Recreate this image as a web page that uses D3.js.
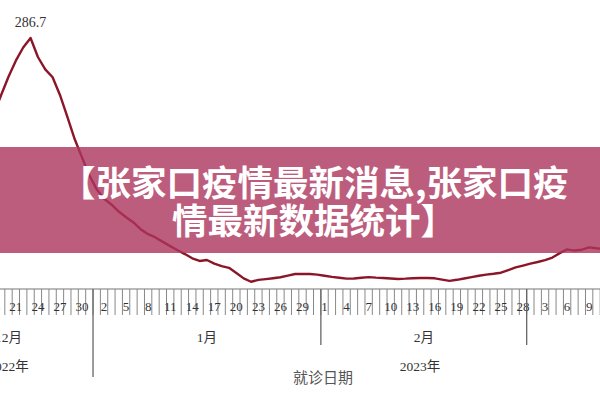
<!DOCTYPE html>
<html><head><meta charset="utf-8">
<script src="https://cdn.jsdelivr.net/npm/d3@7/dist/d3.min.js"></script>
<style>body{margin:0;background:#fff}svg{display:block}</style>
</head><body>
<script>
// ---- data ----
const startDate = "2022-12-18";
const values = [
  200.5,221.6,242.5,260.8,275.8,286.7,265.0,250.9,241.9,221.6,196.8,171.3,150.4,129.8, // Dec18-Dec31
  113.8,103.0,96.6,88.5,82.0,76.0,68.1,62.6,58.9,53.8,49.0,44.2,39.9,35.1,32.0,33.1,29.0,26.2,24.2,18.3,12.1,8.3,10.4,11.3,12.3,13.4,15.3,17.1,17.1,17.1,16.4, // Jan
  15.1,13.9,12.9,11.9,12.0,12.9,13.6,13.0,12.6,12.0,11.5,11.8,12.3,12.6,12.6,12.2,10.7,9.3,10.5,12.0,13.5,15.1,16.4,17.4,18.6,21.6,24.6,26.8, // Feb
  28.9,30.8,32.9,35.9,41.0,45.2,43.9,44.9,47.6,46.5,45.7 // Mar1-Mar11
];
const peakLabel = "286.7";
const monthLabels = ["12月","1月","2月","3月"];
const yearLabels = ["2022年","2023年"];
const axisTitle = "就诊日期";
const titleLines = ["【张家口疫情最新消息,张家口疫","情最新数据统计】"];
const domainStart = "2022-12-09", domainEnd = "2023-03-30"; // full axis extent (days)

const W=600,H=400;
const DAY=864e5;
const parse = s => new Date(s+"T00:00:00Z");
const data = values.map((v,i)=>({date:new Date(parse(startDate).getTime()+i*DAY), v}));

const svg = d3.select("body").append("svg").attr("width",W).attr("height",H);

const x = d3.scaleUtc().domain([parse("2022-12-30"), parse("2023-03-10")]).range([82, 596.5]);
const y = d3.scaleLinear().domain([0,300]).range([289, 289-0.8755*300]);
const serif = "'Liberation Serif','Times New Roman','Noto Sans CJK SC',serif";

// line
svg.append("path").datum(data)
  .attr("fill","none").attr("stroke","#8c1629").attr("stroke-width",2.4)
  .attr("stroke-linejoin","round")
  .attr("d", d3.line().x(d=>x(d.date)).y(d=>y(d.v)).curve(d3.curveLinear));

// peak label
const peak = data.reduce((a,b)=>b.v>a.v?b:a);
svg.append("text").attr("x",x(peak.date)).attr("y",y(peak.v)-11)
  .attr("text-anchor","middle").attr("font-family",serif).attr("font-size",14)
  .attr("fill","#333").text(peakLabel);

// axis
const axisY = y(0);
const d0 = parse(domainStart), d1 = parse(domainEnd);
const xStart = x(new Date(d0.getTime()-DAY/2)), xEnd = x(new Date(d1.getTime()+DAY/2));
svg.append("line").attr("x1",Math.max(0,xStart)).attr("x2",Math.min(W,xEnd))
  .attr("y1",axisY).attr("y2",axisY).attr("stroke","#777").attr("stroke-width",1.2);

const days = d3.utcDay.range(d0, new Date(d1.getTime()+DAY));
const g = svg.append("g");
g.selectAll("line.tick").data(days).join("line")
  .attr("x1",d=>x(new Date(d.getTime()-DAY/2))).attr("x2",d=>x(new Date(d.getTime()-DAY/2)))
  .attr("y1",axisY).attr("y2",axisY+26).attr("stroke","#888").attr("stroke-width",1);

const labelDays = days.filter(d=>Math.round((d-parse(startDate))/DAY)%3===0);
g.selectAll("text.day").data(labelDays).join("text")
  .attr("x",d=>x(d)).attr("y",axisY+22).attr("text-anchor","middle")
  .attr("font-family",serif).attr("font-size",13).attr("fill","#333")
  .text(d=>d.getUTCDate());

// month separators and labels
const monthStarts = d3.utcMonth.range(d3.utcMonth.floor(d0), d1).map(m=>m<d0?d0:m);
const boundaries = d3.utcMonth.range(d3.utcMonth.ceil(d0), d1);
boundaries.forEach(b=>{
  const bx = x(new Date(b.getTime()-DAY/2));
  const isYear = b.getUTCMonth()===0;
  svg.append("line").attr("x1",bx).attr("x2",bx).attr("y1",axisY).attr("y2",isYear?377:345)
    .attr("stroke","#666").attr("stroke-width",1.3);
});
monthStarts.forEach((m,i)=>{
  const next = d3.utcMonth.offset(d3.utcMonth.floor(m),1);
  const a = Math.max(xStart, x(new Date(m.getTime()-DAY/2)));
  const b = Math.min(xEnd, x(new Date(next.getTime()-DAY/2)));
  svg.append("text").attr("x",(a+b)/2).attr("y",342).attr("text-anchor","middle")
    .attr("font-family",serif).attr("font-size",13.5).attr("fill","#333").text(monthLabels[i]);
});
// year labels
const yBound = x(new Date(parse("2023-01-01").getTime()-DAY/2));
[[xStart,yBound],[yBound,xEnd]].forEach((r,i)=>{
  svg.append("text").attr("x",(r[0]+r[1])/2).attr("y",371).attr("text-anchor","middle")
    .attr("font-family",serif).attr("font-size",13.5).attr("fill","#333").text(yearLabels[i]);
});
svg.append("text").attr("x",323).attr("y",383).attr("text-anchor","middle")
  .attr("font-family","'Noto Sans CJK SC',sans-serif").attr("font-size",15).attr("fill","#555").text(axisTitle);

// overlay banner
svg.append("rect").attr("x",0).attr("y",147).attr("width",W).attr("height",106)
  .attr("fill","rgb(172,52,92)").attr("fill-opacity",0.8);
svg.append("text").attr("x",60).attr("y",180).attr("dominant-baseline","central")
  .attr("font-family","'Noto Sans CJK SC',sans-serif").attr("font-weight",700)
  .attr("font-size",35.5).attr("fill","#fff").text(titleLines[0]);
svg.append("text").attr("x",172).attr("y",218).attr("dominant-baseline","central")
  .attr("font-family","'Noto Sans CJK SC',sans-serif").attr("font-weight",700)
  .attr("font-size",35.5).attr("fill","#fff").text(titleLines[1]);
</script>
</body></html>
